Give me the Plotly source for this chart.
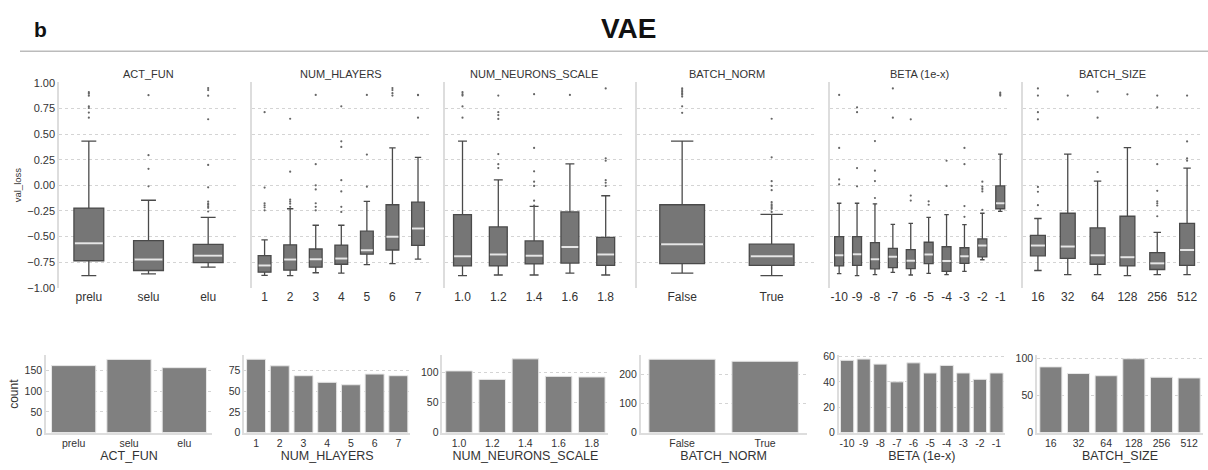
import plotly.graph_objects as go

W, H = 1208, 470

# ---------------- data ----------------
PANELS = ["ACT_FUN", "NUM_HLAYERS", "NUM_NEURONS_SCALE", "BATCH_NORM", "BETA (1e-x)", "BATCH_SIZE"]

act_fun_cats = ["prelu", "selu", "elu"]
num_hlayers_cats = ["1", "2", "3", "4", "5", "6", "7"]
num_neurons_cats = ["1.0", "1.2", "1.4", "1.6", "1.8"]
batch_norm_cats = ["False", "True"]
beta_cats = ["-10", "-9", "-8", "-7", "-6", "-5", "-4", "-3", "-2", "-1"]
batch_size_cats = ["16", "32", "64", "128", "256", "512"]

# box statistics: lower whisker, q1, median, q3, upper whisker
act_fun_lw = [-0.883, -0.864, -0.800]
act_fun_q1 = [-0.737, -0.832, -0.756]
act_fun_med = [-0.565, -0.725, -0.687]
act_fun_q3 = [-0.222, -0.541, -0.576]
act_fun_uw = [0.432, -0.146, -0.313]
act_fun_out = [[0.91, 0.895, 0.875, 0.77, 0.755, 0.71, 0.66],
               [0.88, 0.294, 0.161, -0.01],
               [0.95, 0.93, 0.875, 0.645, 0.199, -0.02, -0.16, -0.18, -0.19, -0.205, -0.22, -0.256]]

num_hlayers_lw = [-0.879, -0.883, -0.854, -0.857, -0.775, -0.765, -0.721]
num_hlayers_q1 = [-0.848, -0.829, -0.800, -0.771, -0.673, -0.632, -0.587]
num_hlayers_med = [-0.784, -0.724, -0.721, -0.714, -0.635, -0.502, -0.422]
num_hlayers_q3 = [-0.686, -0.581, -0.622, -0.584, -0.448, -0.190, -0.165]
num_hlayers_uw = [-0.533, -0.229, -0.390, -0.390, -0.156, 0.365, 0.273]
num_hlayers_out = [[0.714, -0.022, -0.175, -0.195, -0.215, -0.244],
                   [0.65, 0.133, -0.14, -0.16, -0.18, -0.21],
                   [0.883, 0.206, 0.0, -0.04, -0.175, -0.21, -0.244],
                   [0.771, 0.43, 0.375, 0.05, -0.06, -0.21, -0.26],
                   [0.883, 0.30, -0.013],
                   [0.95, 0.93, 0.90, 0.876],
                   [0.883, 0.88, 0.66]]

num_neurons_lw = [-0.883, -0.876, -0.876, -0.857, -0.876]
num_neurons_q1 = [-0.787, -0.787, -0.768, -0.759, -0.781]
num_neurons_med = [-0.692, -0.676, -0.689, -0.603, -0.676]
num_neurons_q3 = [-0.286, -0.406, -0.543, -0.260, -0.508]
num_neurons_uw = [0.432, 0.054, -0.206, 0.210, -0.102]
num_neurons_out = [[0.91, 0.89, 0.876, 0.77, 0.66],
                   [0.876, 0.714, 0.686, 0.648, 0.305, 0.206, 0.168],
                   [0.89, 0.365, 0.137, 0.035, -0.006, -0.15, -0.197],
                   [0.883],
                   [0.946, 0.263, 0.24, 0.05, 0.025, -0.006]]

batch_norm_lw = [-0.857, -0.883]
batch_norm_q1 = [-0.765, -0.781]
batch_norm_med = [-0.575, -0.692]
batch_norm_q3 = [-0.190, -0.575]
batch_norm_uw = [0.432, -0.283]
batch_norm_out = [[0.946, 0.93, 0.915, 0.90, 0.885, 0.867, 0.771, 0.708],
                  [0.65, 0.273, 0.04, -0.006, -0.048, -0.165, -0.185, -0.20, -0.215, -0.23, -0.26]]

beta_lw = [-0.863, -0.883, -0.873, -0.851, -0.876, -0.860, -0.873, -0.841, -0.727, -0.254]
beta_q1 = [-0.787, -0.781, -0.816, -0.803, -0.813, -0.765, -0.841, -0.762, -0.698, -0.229]
beta_med = [-0.683, -0.673, -0.721, -0.698, -0.737, -0.676, -0.740, -0.692, -0.587, -0.175]
beta_q3 = [-0.502, -0.502, -0.559, -0.616, -0.629, -0.556, -0.600, -0.610, -0.524, -0.006]
beta_uw = [-0.175, -0.175, -0.181, -0.381, -0.371, -0.314, -0.286, -0.384, -0.273, 0.305]
beta_out = [[0.883, 0.365, 0.057, 0.01],
            [0.762, 0.714, 0.168, -0.01],
            [0.432, 0.143, 0.041, -0.124, -0.187],
            [0.946, 0.66],
            [0.644, -0.10, -0.149],
            [-0.156, -0.19],
            [0.24, -0.006],
            [0.365, 0.206, -0.203, -0.308],
            [0.035, -0.013, -0.035, -0.06, -0.24],
            [0.905, 0.89, 0.876]]

batch_size_lw = [-0.832, -0.873, -0.873, -0.883, -0.873, -0.873]
batch_size_q1 = [-0.689, -0.714, -0.771, -0.787, -0.822, -0.781]
batch_size_med = [-0.587, -0.597, -0.683, -0.702, -0.762, -0.632]
batch_size_q3 = [-0.489, -0.273, -0.416, -0.302, -0.657, -0.371]
batch_size_uw = [-0.324, 0.305, 0.041, 0.368, -0.460, 0.168]
batch_size_out = [[0.946, 0.876, 0.714, 0.644, -0.016, -0.063, -0.194],
                  [0.876],
                  [0.914, 0.66, 0.13],
                  [0.889],
                  [0.876, 0.762, 0.206, -0.054, -0.156, -0.175, -0.197, -0.302],
                  [0.876, 0.429, 0.263, 0.24]]

# counts (bottom row)
act_fun_counts = [162, 177, 157]
num_hlayers_counts = [89, 81, 69, 61, 58, 71, 69]
num_neurons_counts = [102, 88, 122, 93, 92]
batch_norm_counts = [252, 245]
beta_counts = [57, 58, 54, 40, 55, 47, 53, 47, 42, 47]
batch_size_counts = [89, 80, 77, 100, 75, 74]

y_ticks_box = [-1.0, -0.75, -0.5, -0.25, 0.0, 0.25, 0.5, 0.75, 1.0]
count_ticks = [[0, 50, 100, 150], [0, 25, 50, 75], [0, 50, 100], [0, 100, 200],
               [0, 20, 40, 60], [0, 50, 100]]
count_ranges = [188, 94.3, 128.6, 267, 61.3, 105.3]

cats = [act_fun_cats, num_hlayers_cats, num_neurons_cats, batch_norm_cats, beta_cats, batch_size_cats]
lws = [act_fun_lw, num_hlayers_lw, num_neurons_lw, batch_norm_lw, beta_lw, batch_size_lw]
q1s = [act_fun_q1, num_hlayers_q1, num_neurons_q1, batch_norm_q1, beta_q1, batch_size_q1]
meds = [act_fun_med, num_hlayers_med, num_neurons_med, batch_norm_med, beta_med, batch_size_med]
q3s = [act_fun_q3, num_hlayers_q3, num_neurons_q3, batch_norm_q3, beta_q3, batch_size_q3]
uws = [act_fun_uw, num_hlayers_uw, num_neurons_uw, batch_norm_uw, beta_uw, batch_size_uw]
outs = [act_fun_out, num_hlayers_out, num_neurons_out, batch_norm_out, beta_out, batch_size_out]
counts = [act_fun_counts, num_hlayers_counts, num_neurons_counts, batch_norm_counts, beta_counts, batch_size_counts]

# ---------------- style ----------------
FONT = "Liberation Sans, Arial, sans-serif"
TXT = "#333333"
GRID = "#d4d4d4"
SPINE = "#dddddd"
BOX_FILL = "#767676"
BOX_LINE = "#4a4a4a"
MED = "#e6e6e6"
BAR = "#808080"

def px_x(p):
    return p / W

def px_y(p):
    return 1 - p / H

fig = go.Figure()
layout = {}
annotations = []

for i in range(6):
    n = len(cats[i])
    xs = list(range(n))
    # ---- top box panel ----
    ax = 2 * i + 1
    xa = "x" if ax == 1 else f"x{ax}"
    ya = "y" if ax == 1 else f"y{ax}"
    left = 59 + 192.8 * i
    right = left + 179
    layout["xaxis" if ax == 1 else f"xaxis{ax}"] = dict(
        domain=[px_x(left), px_x(right)], anchor=ya, range=[-0.5, n - 0.5],
        tickvals=xs, ticktext=cats[i], showgrid=False, zeroline=False, showline=False,
        tickfont=dict(size=12, color=TXT, family=FONT), ticks="", fixedrange=True)
    layout["yaxis" if ax == 1 else f"yaxis{ax}"] = dict(
        domain=[px_y(289.5), px_y(78.5)], anchor=xa, range=[-1.004, 1.004],
        tickvals=y_ticks_box, tickformat=".2f", showticklabels=(i == 0),
        showgrid=True, gridcolor=GRID, griddash="dot", gridwidth=1,
        zeroline=False, showline=True, linecolor=SPINE, linewidth=1.5,
        tickfont=dict(size=11, color=TXT, family=FONT), ticks="", fixedrange=True)

    fig.add_trace(go.Box(
        x=xs, q1=q1s[i], median=meds[i], q3=q3s[i],
        lowerfence=lws[i], upperfence=uws[i],
        width=0.5, whiskerwidth=0.5, boxpoints=False,
        fillcolor=BOX_FILL, line=dict(color=BOX_LINE, width=1.3),
        xaxis=xa, yaxis=ya, showlegend=False, hoverinfo="skip"))
    mx, my = [], []
    for k in xs:
        mx += [k - 0.235, k + 0.235, None]
        my += [meds[i][k], meds[i][k], None]
    fig.add_trace(go.Scatter(x=mx, y=my, mode="lines", line=dict(color=MED, width=2),
                             xaxis=xa, yaxis=ya, showlegend=False, hoverinfo="skip"))
    ox, oy = [], []
    for k in xs:
        for v in outs[i][k]:
            ox.append(k)
            oy.append(v)
    fig.add_trace(go.Scatter(x=ox, y=oy, mode="markers",
                             marker=dict(color="#666666", size=2.2),
                             xaxis=xa, yaxis=ya, showlegend=False, hoverinfo="skip"))
    annotations.append(dict(text=PANELS[i], x=px_x((left + right) / 2), y=px_y(70),
                            xref="paper", yref="paper", showarrow=False,
                            xanchor="center", yanchor="middle",
                            font=dict(size=11, color=TXT, family=FONT)))

    # ---- bottom bar panel ----
    bx = 2 * i + 2
    xb = f"x{bx}"
    yb = f"y{bx}"
    bl = 46 + 198.2 * i
    br = bl + 166
    layout[f"xaxis{bx}"] = dict(
        domain=[px_x(bl), px_x(br)], anchor=yb, range=[-0.5, n - 0.5],
        tickvals=xs, ticktext=cats[i], showgrid=False, zeroline=False,
        showline=True, linecolor=SPINE, linewidth=1.5,
        tickfont=dict(size=10.5, color=TXT, family=FONT), ticks="",
        title=dict(text=PANELS[i], font=dict(size=12.5, color=TXT, family=FONT), standoff=3),
        fixedrange=True)
    layout[f"yaxis{bx}"] = dict(
        domain=[px_y(437.7), px_y(358)], anchor=xb, range=[0, count_ranges[i]],
        tickvals=count_ticks[i], showgrid=True, gridcolor=GRID, griddash="dot", gridwidth=1,
        zeroline=False, showline=True, linecolor=SPINE, linewidth=1.5,
        tickfont=dict(size=10.5, color=TXT, family=FONT), ticks="", fixedrange=True)
    fig.add_trace(go.Bar(x=xs, y=counts[i], width=0.8, marker=dict(color=BAR,
                         line=dict(color="#e8e8e8", width=1)),
                         xaxis=xb, yaxis=yb, showlegend=False, hoverinfo="skip"))

annotations += [
    dict(text="<b>b</b>", x=px_x(32), y=px_y(24), xref="paper", yref="paper", showarrow=False,
         xanchor="left", yanchor="middle", font=dict(size=21, color="#111111", family=FONT)),
    dict(text="<b>VAE</b>", x=px_x(629), y=px_y(23), xref="paper", yref="paper", showarrow=False,
         xanchor="center", yanchor="middle", font=dict(size=28, color="#111111", family=FONT)),
    dict(text="val_loss", x=px_x(17), y=px_y(184), xref="paper", yref="paper", showarrow=False,
         textangle=-90, xanchor="center", yanchor="middle",
         font=dict(size=9.5, color=TXT, family=FONT)),
    dict(text="count", x=px_x(14), y=px_y(398), xref="paper", yref="paper", showarrow=False,
         textangle=-90, xanchor="center", yanchor="middle",
         font=dict(size=12, color=TXT, family=FONT)),
]

fig.update_layout(
    width=W, height=H, margin=dict(l=0, r=0, t=0, b=0),
    paper_bgcolor="white", plot_bgcolor="white",
    annotations=annotations, bargap=0.2,
    shapes=[dict(type="line", xref="paper", yref="paper", x0=px_x(20), x1=1,
                 y0=px_y(46.5), y1=px_y(46.5), line=dict(color="#bbbbbb", width=1.5))],
    **layout)

fig.write_html("out.html", config={"displayModeBar": False},
               post_script="document.body.style.margin='0px';document.body.style.overflow='hidden';")
